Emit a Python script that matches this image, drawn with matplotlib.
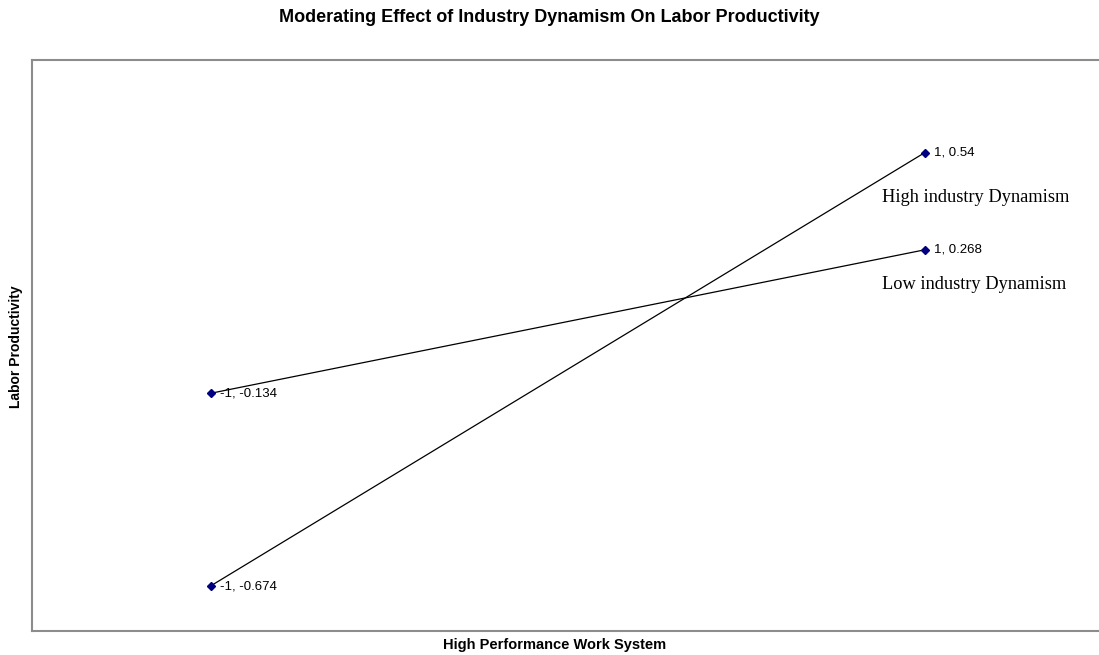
import matplotlib.pyplot as plt

# Simple slopes: HPWS at -1 / +1 for high and low industry dynamism
hpws = [-1, 1]
high_dyn = [-0.674, 0.54]
low_dyn = [-0.134, 0.268]
series_names = ["High industry Dynamism", "Low industry Dynamism"]

fig = plt.figure(figsize=(10.99, 6.55), dpi=100)
ax = fig.add_axes([32 / 1099, 1 - 631 / 655, 1071 / 1099, 571 / 655])

for ys in (high_dyn, low_dyn):
    ax.plot(hpws, ys, color="black", linewidth=0.9, zorder=2)
    ax.plot(hpws, ys, linestyle="none", marker="D", markersize=4,
            color="#000080", zorder=3)
    for x, y in zip(hpws, ys):
        ax.annotate(f"{x:g}, {y:g}", (x, y), xytext=(7, 0),
                    textcoords="offset points", va="center", ha="left",
                    fontsize=9.5, family="Liberation Sans")

# series names sit under the right-hand end points
ax.text(0.88, high_dyn[1] - 0.126, series_names[0], ha="left", va="center",
        fontsize=13.2, family="Liberation Serif")
ax.text(0.88, low_dyn[1] - 0.096, series_names[1], ha="left", va="center",
        fontsize=13.2, family="Liberation Serif")

ax.set_xlim(-1.5, 1.5)
ax.set_ylim(-0.8, 0.8)
ax.set_xticks([])
ax.set_yticks([])
for side in ("left", "top", "bottom"):
    ax.spines[side].set_color("#8c8c8c")
    ax.spines[side].set_linewidth(1.5)
ax.spines["right"].set_visible(False)

fig.text(0.5, 1 - 18 / 655, "Moderating Effect of Industry Dynamism On Labor Productivity",
         ha="center", va="center", fontsize=13, fontweight="bold",
         family="Liberation Sans")
fig.text(0.505, 1 - 645 / 655, "High Performance Work System", ha="center",
         va="center", fontsize=10.5, fontweight="bold", family="Liberation Sans")
fig.text(16 / 1099, 1 - 347 / 655, "Labor Productivity", ha="center",
         va="center", rotation=90, fontsize=10, fontweight="bold",
         family="Liberation Sans")

fig.savefig("out.png", dpi=100)
